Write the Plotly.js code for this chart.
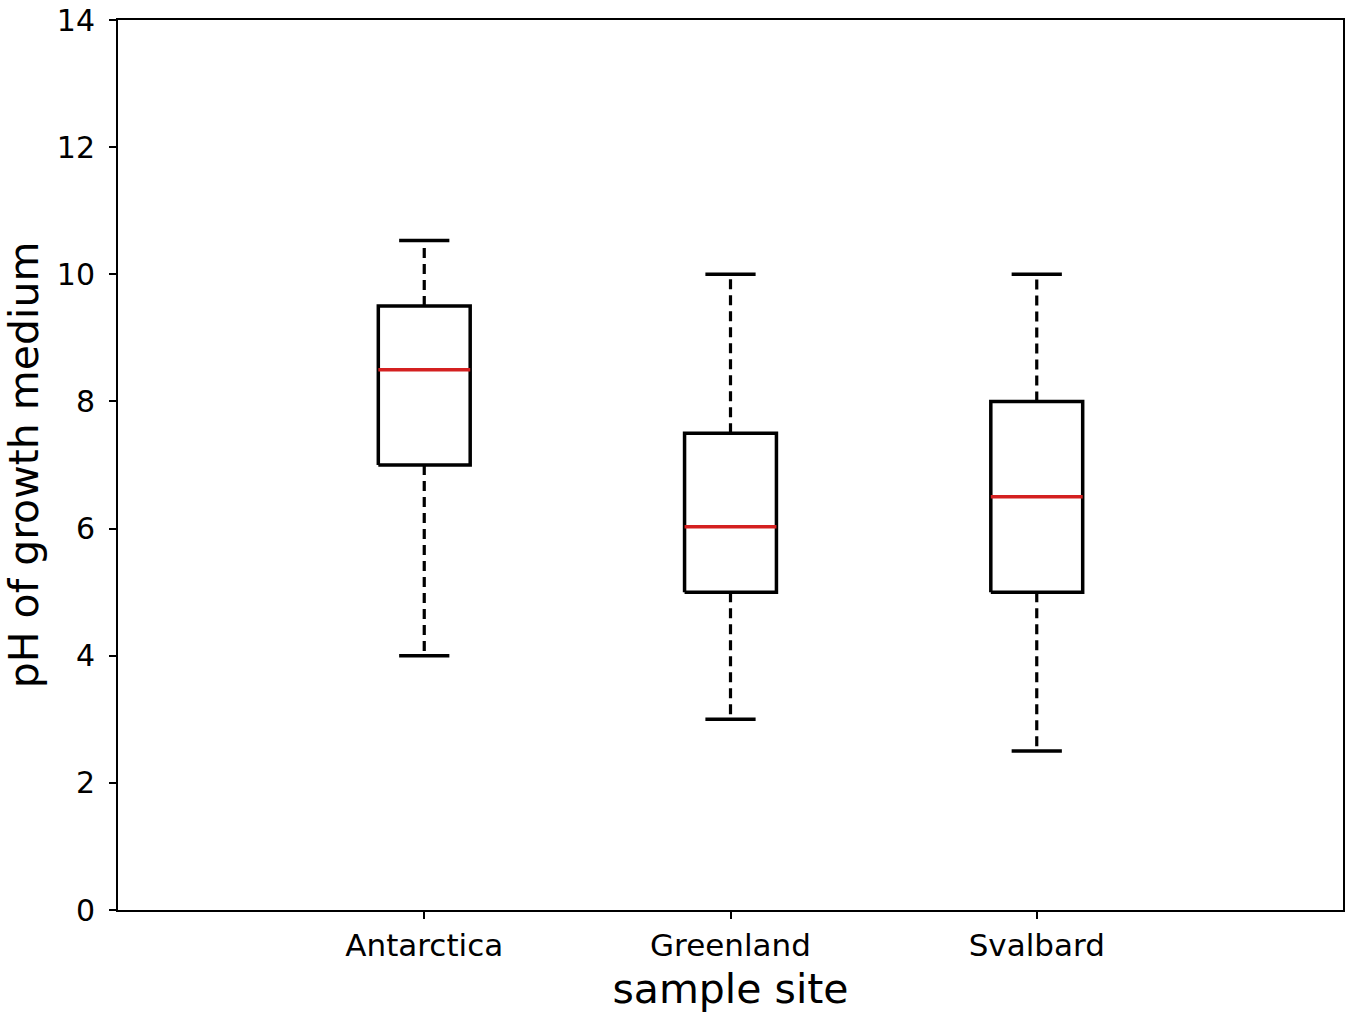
<!DOCTYPE html>
<html>
<head>
<meta charset="utf-8">
<script src="https://cdn.plot.ly/plotly-3.0.1.min.js"></script>
<style>html,body{margin:0;padding:0;background:#fff;}#chart{width:1350px;height:1019px;}</style>
</head>
<body>
<div id="chart"></div>
<script>
// Data
const sites = ["Antarctica", "Greenland", "Svalbard"];
const lowerWhisker = [4.0, 3.0, 2.5];
const q1 = [7.0, 5.0, 5.0];
const median = [8.5, 6.03, 6.5];
const q3 = [9.5, 7.5, 8.0];
const upperWhisker = [10.53, 10.0, 10.0];
const yTicks = [0, 2, 4, 6, 8, 10, 12, 14];

const positions = sites.map((s, i) => i + 1);
const halfBox = 0.15, halfCap = 0.082;

const boxX = [], boxY = [], whX = [], whY = [], capX = [], capY = [], medX = [], medY = [];
positions.forEach((p, i) => {
  boxX.push(p - halfBox, p + halfBox, p + halfBox, p - halfBox, p - halfBox, null);
  boxY.push(q1[i], q1[i], q3[i], q3[i], q1[i], null);
  whX.push(p, p, null, p, p, null);
  whY.push(q1[i], lowerWhisker[i], null, q3[i], upperWhisker[i], null);
  capX.push(p - halfCap, p + halfCap, null, p - halfCap, p + halfCap, null);
  capY.push(lowerWhisker[i], lowerWhisker[i], null, upperWhisker[i], upperWhisker[i], null);
  medX.push(p - halfBox, p + halfBox, null);
  medY.push(median[i], median[i], null);
});

const traces = [
  {x: whX, y: whY, mode: "lines", line: {color: "#000", width: 3.2, dash: "10px,6px"}, hoverinfo: "skip", showlegend: false},
  {x: capX, y: capY, mode: "lines", line: {color: "#000", width: 3.5}, hoverinfo: "skip", showlegend: false},
  {x: boxX, y: boxY, mode: "lines", line: {color: "#000", width: 3.5}, hoverinfo: "skip", showlegend: false},
  {x: medX, y: medY, mode: "lines", line: {color: "#d42020", width: 3.5}, hoverinfo: "skip", showlegend: false}
];

const layout = {
  width: 1350, height: 1019,
  margin: {l: 118, r: 7, t: 20, b: 109},
  paper_bgcolor: "#fff", plot_bgcolor: "#fff",
  font: {family: "DejaVu Sans", color: "#000", size: 30},
  showlegend: false,
  xaxis: {
    range: [0, 4], tickvals: positions, ticktext: sites,
    showgrid: false, zeroline: false, showline: true, mirror: true,
    linecolor: "#000", linewidth: 2, ticks: "outside", ticklen: 7, tickwidth: 2, tickcolor: "#000",
    tickfont: {size: 31}, ticklabelstandoff: 0,
    title: {text: "sample site", font: {size: 41}, standoff: 12}
  },
  yaxis: {
    range: [0, 14], tickvals: yTicks, ticktext: yTicks.map(String),
    showgrid: false, zeroline: false, showline: true, mirror: true,
    linecolor: "#000", linewidth: 2, ticks: "outside", ticklen: 7, tickwidth: 2, tickcolor: "#000",
    tickfont: {size: 30}, ticklabeloverflow: "allow", ticklabelstandoff: 8,
    title: {text: "pH of growth medium", font: {size: 41}, standoff: 12}
  }
};

Plotly.newPlot("chart", traces, layout, {displayModeBar: false, staticPlot: true});
</script>
</body>
</html>
